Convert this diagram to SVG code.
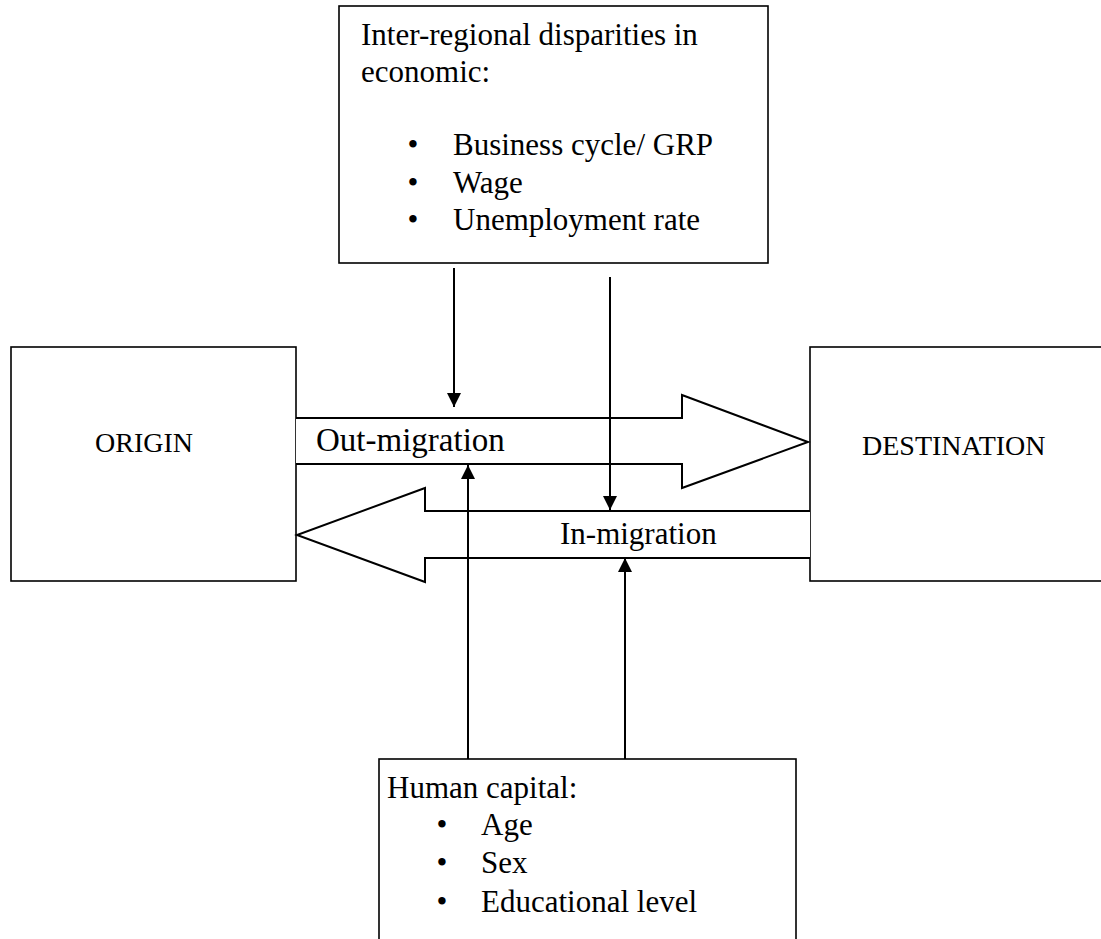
<svg xmlns="http://www.w3.org/2000/svg" width="1101" height="939" viewBox="0 0 1101 939">
  <defs>
    <style>
      .box { fill: #ffffff; stroke: #000000; stroke-width: 1.6; }
      .blk { fill: #ffffff; stroke: #000000; stroke-width: 2; stroke-linejoin: miter; }
      .ln { fill: none; stroke: #000000; stroke-width: 2; }
      .t { font-family: "Liberation Serif", "Times New Roman", serif; fill: #000000; font-size: 31px; }
      .tm { font-family: "Liberation Serif", "Times New Roman", serif; fill: #000000; font-size: 28px; }
    </style>
    <marker id="ah" viewBox="0 0 10 10" refX="10" refY="5" markerWidth="7" markerHeight="7" markerUnits="userSpaceOnUse" orient="auto">
      <path d="M0,0 L10,5 L0,10 Z" fill="#000000"/>
    </marker>
    <marker id="ahb" viewBox="0 0 14 14" refX="14" refY="7" markerWidth="14" markerHeight="14" markerUnits="userSpaceOnUse" orient="auto">
      <path d="M0,0 L14,7 L0,14 Z" fill="#000000"/>
    </marker>
  </defs>
  <rect width="1101" height="939" fill="#ffffff"/>

  <g id="economic-factors">
    <rect class="box" x="339" y="6" width="429" height="257"/>
    <text class="t" x="361" y="45">Inter-regional disparities in</text>
    <text class="t" x="361" y="82">economic:</text>
    <text class="t" x="413" y="155" text-anchor="middle">•</text>
    <text class="t" x="413" y="193" text-anchor="middle">•</text>
    <text class="t" x="413" y="230" text-anchor="middle">•</text>
    <text class="t" x="453" y="155">Business cycle/ GRP</text>
    <text class="t" x="453" y="193">Wage</text>
    <text class="t" x="453" y="230">Unemployment rate</text>
  </g>

  <g id="origin">
    <rect class="box" x="11" y="347" width="285" height="234"/>
    <text class="tm" x="95" y="452">ORIGIN</text>
  </g>

  <g id="destination">
    <rect class="box" x="810" y="347" width="300" height="234"/>
    <text class="tm" x="862" y="455">DESTINATION</text>
  </g>

  <g id="human-capital">
    <rect class="box" x="379" y="759" width="417" height="200"/>
    <text class="t" x="387" y="798">Human capital:</text>
    <text class="t" x="442" y="835" text-anchor="middle">•</text>
    <text class="t" x="442" y="873" text-anchor="middle">•</text>
    <text class="t" x="442" y="912" text-anchor="middle">•</text>
    <text class="t" x="481" y="835">Age</text>
    <text class="t" x="481" y="873">Sex</text>
    <text class="t" x="481" y="912">Educational level</text>
  </g>

  <g id="connectors">
    <g id="out-migration">
      <path class="blk" d="M296,418 L682,418 L682,395 L808,442 L682,488 L682,464 L296,464"/>
      <text class="t" x="316" y="451" style="font-size:33px">Out-migration</text>
    </g>
    <g id="in-migration">
      <path class="blk" d="M810,511 L425,511 L425,488 L297,535 L425,582 L425,558 L810,558"/>
      <text class="t" x="560" y="544">In-migration</text>
    </g>
    <line class="ln" x1="454" y1="268" x2="454" y2="407" marker-end="url(#ahb)"/>
    <line class="ln" x1="610" y1="277" x2="610" y2="510" marker-end="url(#ahb)"/>
    <line class="ln" x1="468" y1="759" x2="468" y2="465" marker-end="url(#ahb)"/>
    <line class="ln" x1="625" y1="759" x2="625" y2="558" marker-end="url(#ahb)"/>
  </g>
</svg>
